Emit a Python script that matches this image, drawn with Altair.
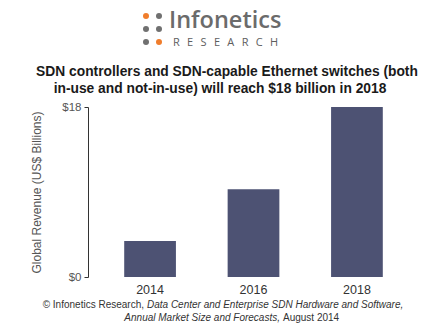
import altair as alt
import pandas as pd

years = ["2014", "2016", "2018"]
revenue = [3.8, 9.3, 18.0]
y_ticks = [0, 18]

title_lines = [
    "SDN controllers and SDN-capable Ethernet switches (both",
    "in-use and not-in-use) will reach $18 billion in 2018",
]
y_title = "Global Revenue (US$ Billions)"
foot1_plain = "\u00a9 Infonetics Research,"
foot1_ital = "Data Center and Enterprise SDN Hardware and Software,"
foot2_ital = "Annual Market Size and Forecasts,"
foot2_plain = "August 2014"
logo_word = "Infonetics"
logo_sub = "\u2002\u2009".join("RESEARCH")
dot_colors = ["#f07d2c", "#707070", "#707070", "#707070", "#707070", "#f07d2c"]

OX, OY = 88, 107  # plot origin in window
W, H = 331, 170
FONT = "Liberation Sans"

df = pd.DataFrame({"year": years, "revenue": revenue})

bars = alt.Chart(df).mark_bar(color="#4d5273").encode(
    x=alt.X(
        "year:N",
        sort=years,
        scale=alt.Scale(paddingInner=0.5, paddingOuter=0.35),
        axis=alt.Axis(
            title=None, domain=False, ticks=False, labelAngle=0,
            labelFont=FONT, labelFontSize=12.5, labelColor="#333333",
            labelPadding=6,
        ),
    ),
    y=alt.Y(
        "revenue:Q",
        scale=alt.Scale(domain=[0, 18], nice=False),
        axis=alt.Axis(
            values=y_ticks, labelExpr="'$' + datum.value", grid=False,
            domainColor="#333333", tickColor="#333333", tickSize=4,
            labelFont=FONT, labelFontSize=11.5, labelColor="#555555", labelPadding=3,
            title=y_title, titleFont=FONT, titleFontSize=12, titleFontWeight="normal",
            titleColor="#555555", titlePadding=18,
        ),
    ),
)


def txt(s, x, y, size, color="#333333", weight="normal", style="normal", align="center", font=FONT):
    return alt.Chart(pd.DataFrame({"t": [s]})).mark_text(
        font=font, fontSize=size, fontWeight=weight, fontStyle=style,
        align=align, baseline="alphabetic", color=color,
    ).encode(x=alt.value(x - OX), y=alt.value(y - OY), text="t:N")


layers = [bars]
# title
layers.append(txt(title_lines[0], 227, 76, 13.8, "#1a1a1a", "bold"))
layers.append(txt(title_lines[1], 220, 93, 13.8, "#1a1a1a", "bold"))
# footer
layers.append(txt(foot1_plain, 144, 308, 10, "#333333", align="right"))
layers.append(txt(foot1_ital, 147, 308, 10, "#333333", style="italic", align="left"))
layers.append(txt(foot2_ital, 280, 321, 10, "#333333", style="italic", align="right"))
layers.append(txt(foot2_plain, 283, 321, 10, "#333333", align="left"))
# logo
layers.append(txt(logo_word, 169, 28, 23.5, "#6b6b6b", 600, font="Open Sans", align="left"))
layers.append(txt(logo_sub, 173, 46, 11, "#5e5e5e", font="Open Sans", align="left"))
dot_x = [146, 159]
dot_y = [16, 29, 42]
for i, c in enumerate(dot_colors):
    r, k = divmod(i, 2)
    layers.append(
        alt.Chart(pd.DataFrame({"c": [c]})).mark_point(filled=True, shape="circle", size=36, opacity=1)
        .encode(x=alt.value(dot_x[k] - OX), y=alt.value(dot_y[r] - OY), color=alt.Color("c:N", scale=None))
    )

chart = alt.layer(*layers).properties(
    width=W, height=H,
    autosize=alt.AutoSizeParams(type="none"),
    padding={"left": OX, "top": OY, "right": 428 - OX - W, "bottom": 332 - OY - H},
    background="white",
).configure_view(stroke=None)

chart.save("out.html", embed_options={"renderer": "svg", "actions": False})
